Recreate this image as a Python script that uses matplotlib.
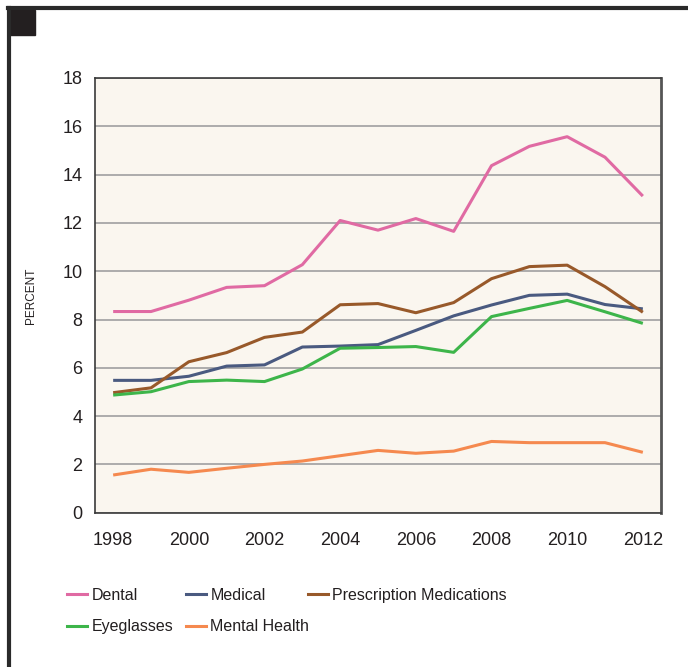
import matplotlib.pyplot as plt
from matplotlib.lines import Line2D
from matplotlib.patches import Rectangle

plt.rcParams['font.family'] = ['Liberation Sans', 'DejaVu Sans']

years = list(range(1998, 2013))
dental = [8.33, 8.33, 8.8, 9.33, 9.4, 10.27, 12.1, 11.7, 12.18, 11.65, 14.37, 15.17, 15.57, 14.72, 13.11]
medical = [5.48, 5.48, 5.65, 6.07, 6.12, 6.86, 6.9, 6.96, 7.55, 8.15, 8.6, 9.0, 9.05, 8.62, 8.44]
rx = [4.97, 5.17, 6.25, 6.63, 7.26, 7.48, 8.61, 8.66, 8.28, 8.7, 9.69, 10.19, 10.25, 9.36, 8.3]
eyeglasses = [4.87, 5.01, 5.43, 5.49, 5.43, 5.95, 6.81, 6.84, 6.88, 6.64, 8.12, 8.46, 8.79, 8.32, 7.84]
mental = [1.56, 1.8, 1.67, 1.84, 2.0, 2.14, 2.36, 2.58, 2.46, 2.55, 2.95, 2.9, 2.9, 2.9, 2.5]

names = ['Dental', 'Medical', 'Prescription Medications', 'Eyeglasses', 'Mental Health']
colors = ['#e06aa3', '#4a5a80', '#98592a', '#3db54a', '#f5894f']
series = [dental, medical, rx, eyeglasses, mental]

fig = plt.figure(figsize=(6.88, 6.67), dpi=100)
ax = fig.add_axes([95/688, 1-512.7/667, 566/688, 434.7/667])
ax.set_facecolor('#faf6ef')

for vals, c, nm in zip(series, colors, names):
    ax.plot(years, vals, color=c, lw=2.2, label=nm, zorder=3, solid_capstyle='butt')

ax.set_xlim(1997.52, 2012.48)
ax.set_ylim(0, 18)
ax.set_xticks(range(1998, 2013, 2))
ax.set_yticks(range(0, 19, 2))
ax.grid(axis='y', color='#a6a6a6', lw=1.3)
ax.set_axisbelow(True)
ax.tick_params(axis='x', length=0, pad=14, labelsize=13, colors='#231f20')
ax.tick_params(axis='y', length=0, pad=9, labelsize=13, colors='#231f20')
for s in ['left', 'bottom', 'top']:
    ax.spines[s].set_color('#3a3a3a')
    ax.spines[s].set_linewidth(1.2)
ax.spines['right'].set_color('#555555')
ax.spines['right'].set_linewidth(2)

ax.set_ylabel('PERCENT', fontsize=8.5, color='#231f20')
ax.yaxis.set_label_coords(-0.102, 0.5)

# legend, one column at a time
handles = [Line2D([], [], color=c, lw=2.2) for c in colors]
cols = [[0, 3], [1, 4], [2]]
col_x = [67, 186, 308]
for idx, x0 in zip(cols, col_x):
    fig.legend([handles[i] for i in idx], [names[i] for i in idx],
               loc='upper left', bbox_to_anchor=(x0/688, 1-588/667), frameon=False,
               fontsize=11.5, handlelength=1.25, handletextpad=0.28, borderpad=0,
               borderaxespad=0, labelspacing=1.02, labelcolor='#231f20')

# page frame
fig.add_artist(Line2D([8/688, 1], [1-8/667, 1-8/667], color='#2a2a2a', lw=3, transform=fig.transFigure))
fig.add_artist(Line2D([9/688, 9/688], [0, 1-8/667], color='#2a2a2a', lw=3, transform=fig.transFigure))
fig.add_artist(Rectangle((10/688, 1-35/667), 25/688, 25/667, color='#231f20', transform=fig.transFigure))

fig.savefig('out.png', dpi=100)
